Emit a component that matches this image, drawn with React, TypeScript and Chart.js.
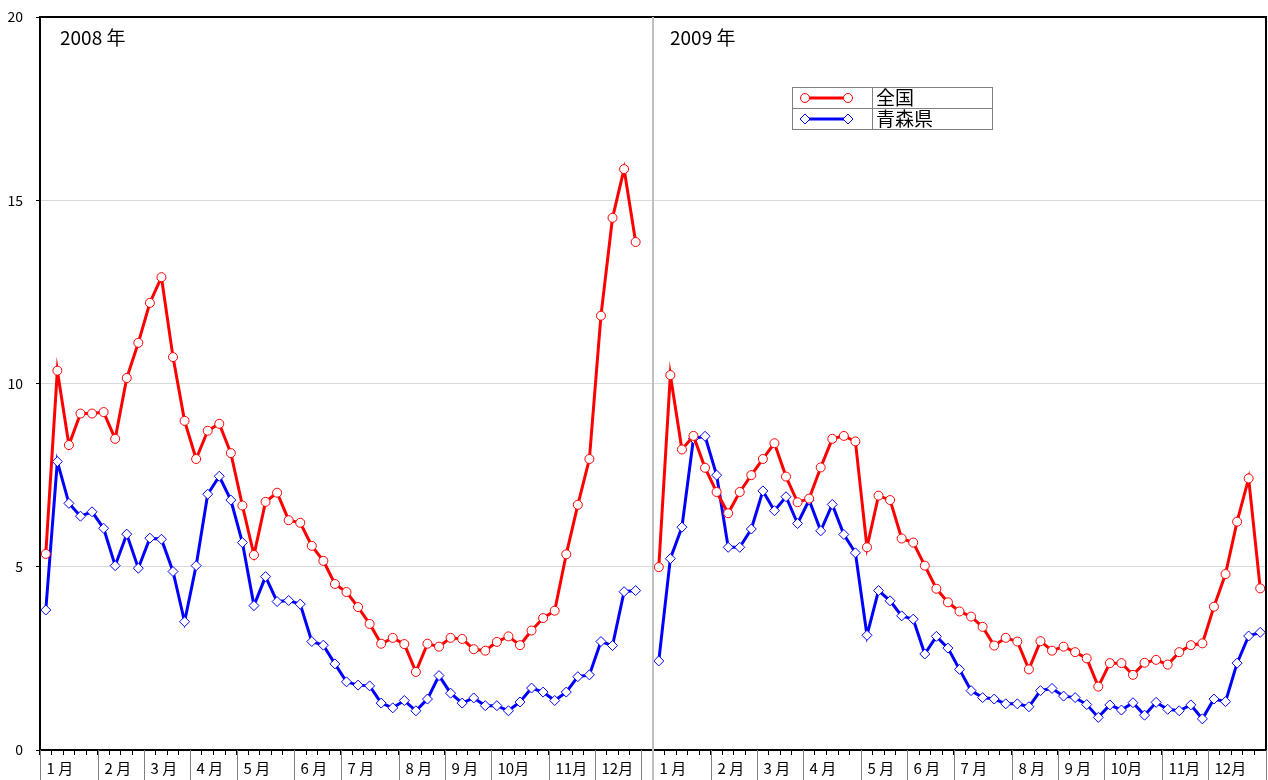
import React, { useEffect, useRef } from "react";
import { Chart, registerables } from "chart.js";

Chart.register(...registerables);

// ---- data ----
const years = ["2008", "2009"];
const seriesNames = ["全国", "青森県"];
const weeks2008 = [5, 4, 4, 4, 5, 4, 5, 4, 4, 5, 4, 4]; // 52 weeks (+1 empty slot)
const weeks2009 = [5, 4, 4, 5, 4, 4, 5, 4, 4, 5, 4, 5]; // 53 weeks
const SLOTS_PER_YEAR = 53;
const yTicks = [0, 5, 10, 15, 20];

const national2008 = [
  5.35, 10.35, 8.32, 9.18, 9.18, 9.22, 8.49, 10.15, 11.11, 12.2, 12.9, 10.72, 8.98,
  7.94, 8.71, 8.9, 8.1, 6.67, 5.32, 6.77, 7.02, 6.27, 6.2, 5.57, 5.16, 4.53, 4.31,
  3.9, 3.44, 2.9, 3.06, 2.89, 2.13, 2.9, 2.82, 3.06, 3.03, 2.75, 2.71, 2.95, 3.1,
  2.86, 3.26, 3.6, 3.8, 5.34, 6.69, 7.94, 11.85, 14.52, 15.85, 13.86,
];
const aomori2008 = [
  3.82, 7.87, 6.73, 6.38, 6.5, 6.05, 5.03, 5.89, 4.96, 5.78, 5.75, 4.87, 3.5, 5.03,
  6.98, 7.47, 6.82, 5.66, 3.94, 4.73, 4.05, 4.08, 3.98, 2.96, 2.86, 2.35, 1.86, 1.77,
  1.75, 1.28, 1.15, 1.35, 1.07, 1.39, 2.03, 1.55, 1.28, 1.42, 1.21, 1.21, 1.07, 1.31,
  1.69, 1.58, 1.35, 1.58, 2.0, 2.05, 2.96, 2.85, 4.32, 4.35,
];
const national2009 = [
  4.99, 10.23, 8.2, 8.57, 7.7, 7.04, 6.46, 7.04, 7.5, 7.94, 8.37, 7.46, 6.76, 6.86,
  7.71, 8.49, 8.57, 8.42, 5.53, 6.94, 6.82, 5.77, 5.66, 5.03, 4.4, 4.03, 3.78, 3.64,
  3.36, 2.85, 3.06, 2.96, 2.2, 2.97, 2.71, 2.82, 2.67, 2.5, 1.73, 2.37, 2.37, 2.05,
  2.38, 2.46, 2.33, 2.67, 2.86, 2.91, 3.91, 4.8, 6.23, 7.41, 4.41,
];
const aomori2009 = [
  2.43, 5.22, 6.08, 8.5, 8.56, 7.5, 5.53, 5.53, 6.03, 7.07, 6.53, 6.91, 6.18, 6.82,
  5.98, 6.7, 5.88, 5.38, 3.13, 4.35, 4.07, 3.66, 3.57, 2.62, 3.1, 2.78, 2.2, 1.62,
  1.43, 1.39, 1.26, 1.26, 1.18, 1.62, 1.68, 1.47, 1.43, 1.24, 0.89, 1.23, 1.09, 1.29,
  0.95, 1.3, 1.11, 1.07, 1.23, 0.85, 1.39, 1.32, 2.37, 3.11, 3.21,
];

const pad = (arr: number[]) => {
  const out: (number | null)[] = [...arr];
  while (out.length < SLOTS_PER_YEAR) out.push(null);
  return out;
};

const FONT = "'Noto Sans CJK JP', 'DejaVu Sans', sans-serif";

const overlayPlugin = {
  id: "overlay",
  afterDraw(chart: any) {
    const ctx = chart.ctx;
    const xs = chart.scales.x;
    const area = chart.chartArea;
    const w = xs.getPixelForValue(1) - xs.getPixelForValue(0);
    const bx = (i: number) => xs.getPixelForValue(i) - w / 2;
    const H = chart.height;
    ctx.save();

    // frame (top + right)
    ctx.strokeStyle = "#000";
    ctx.lineWidth = 2;
    ctx.beginPath();
    ctx.moveTo(area.left, area.top);
    ctx.lineTo(area.right, area.top);
    ctx.lineTo(area.right, area.bottom);
    ctx.stroke();

    // month separators + labels
    const yearWeeks = [weeks2008, weeks2009];
    ctx.font = `15px ${FONT}`;
    ctx.textBaseline = "middle";
    ctx.textAlign = "left";
    yearWeeks.forEach((wk, yi) => {
      let idx = yi * SLOTS_PER_YEAR;
      wk.forEach((n, mi) => {
        const x0 = Math.round(bx(idx)) + 0.5;
        ctx.strokeStyle = "#808080";
        ctx.lineWidth = 1;
        ctx.beginPath();
        ctx.moveTo(x0, area.bottom);
        ctx.lineTo(x0, H);
        ctx.stroke();
        const m = mi + 1;
        const label = m < 10 ? `${m} 月` : `${m}月`;
        ctx.fillStyle = "#000";
        ctx.fillText(label, x0 + 6, area.bottom + 18);
        idx += n;
      });
      const xe = Math.round(bx(idx)) + 0.5;
      ctx.strokeStyle = "#808080";
      ctx.beginPath();
      ctx.moveTo(xe, area.bottom);
      ctx.lineTo(xe, H);
      ctx.stroke();
    });

    // panel divider
    const xd = bx(SLOTS_PER_YEAR);
    ctx.strokeStyle = "#c0c0c0";
    ctx.lineWidth = 2;
    ctx.beginPath();
    ctx.moveTo(xd, area.top);
    ctx.lineTo(xd, H);
    ctx.stroke();

    // year titles
    ctx.fillStyle = "#000";
    ctx.font = `19px ${FONT}`;
    ctx.textBaseline = "middle";
    ctx.fillText(`${years[0]} 年`, area.left + 20, area.top + 21);
    ctx.fillText(`${years[1]} 年`, xd + 17, area.top + 21);

    // legend box
    const lx = 792, ly = 87, lw = 200, rh = 21, cw = 80;
    ctx.strokeStyle = "#808080";
    ctx.lineWidth = 1;
    ctx.strokeRect(lx + 0.5, ly + 0.5, lw, rh * 2);
    ctx.beginPath();
    ctx.moveTo(lx, ly + rh + 0.5);
    ctx.lineTo(lx + lw, ly + rh + 0.5);
    ctx.moveTo(lx + cw + 0.5, ly);
    ctx.lineTo(lx + cw + 0.5, ly + rh * 2);
    ctx.stroke();
    const ds = chart.data.datasets;
    ds.forEach((d: any, i: number) => {
      const cy = ly + rh * i + rh / 2 + 0.5;
      const x1 = lx + 13, x2 = lx + 56;
      ctx.strokeStyle = d.borderColor;
      ctx.lineWidth = 3;
      ctx.beginPath();
      ctx.moveTo(x1, cy);
      ctx.lineTo(x2, cy);
      ctx.stroke();
      [x1, x2].forEach((px) => {
        ctx.lineWidth = 1;
        ctx.fillStyle = "#fff";
        ctx.strokeStyle = d.borderColor;
        ctx.beginPath();
        if (d.pointStyle === "circle") {
          ctx.arc(px, cy, 4.5, 0, Math.PI * 2);
        } else {
          ctx.moveTo(px, cy - 5);
          ctx.lineTo(px + 5, cy);
          ctx.lineTo(px, cy + 5);
          ctx.lineTo(px - 5, cy);
          ctx.closePath();
        }
        ctx.fill();
        ctx.stroke();
      });
      ctx.fillStyle = "#000";
      ctx.font = `19px ${FONT}`;
      ctx.textAlign = "left";
      ctx.fillText(seriesNames[i], lx + cw + 4, cy);
    });
    ctx.restore();
  },
};

const zeroPad = (s: any) => {
  s.paddingTop = 0;
  s.paddingBottom = 0;
  s.paddingLeft = 0;
  s.paddingRight = 0;
};

export default function App() {
  const ref = useRef<HTMLCanvasElement>(null);
  useEffect(() => {
    document.body.style.margin = "0";
    const labels: string[] = [];
    years.forEach((y) => {
      for (let i = 1; i <= SLOTS_PER_YEAR; i++) labels.push(`${y}-${i}`);
    });
    const national = [...pad(national2008), ...pad(national2009)];
    const aomori = [...pad(aomori2008), ...pad(aomori2009)];
    const chart = new Chart(ref.current as HTMLCanvasElement, {
      type: "line",
      data: {
        labels,
        datasets: [
          {
            label: seriesNames[0],
            data: national,
            borderColor: "#ff0000",
            backgroundColor: "#ffffff",
            borderWidth: 3,
            pointStyle: "circle",
            pointRadius: 4.5,
            pointBorderWidth: 1,
            pointBackgroundColor: "#ffffff",
            pointBorderColor: "#ff0000",
            spanGaps: false,
            tension: 0,
          },
          {
            label: seriesNames[1],
            data: aomori,
            borderColor: "#0000ff",
            backgroundColor: "#ffffff",
            borderWidth: 3,
            pointStyle: "rectRot",
            pointRadius: 5,
            pointBorderWidth: 1,
            pointBackgroundColor: "#ffffff",
            pointBorderColor: "#0000ff",
            spanGaps: false,
            tension: 0,
          },
        ],
      },
      options: {
        responsive: false,
        animation: false,
        devicePixelRatio: 1,
        layout: { autoPadding: false, padding: { top: 17, right: 2, left: 0, bottom: 0 } },
        plugins: { legend: { display: false }, tooltip: { enabled: false } },
        scales: {
          x: {
            type: "category",
            offset: true,
            grid: {
              display: true,
              offset: true,
              drawOnChartArea: false,
              drawTicks: true,
              tickLength: 5,
              color: "#000",
            },
            border: { display: true, color: "#000", width: 2 },
            ticks: { display: false, autoSkip: false },
            afterFit: (s: any) => {
              s.height = 30;
              zeroPad(s);
            },
          },
          y: {
            min: 0,
            max: 20,
            afterBuildTicks: (s: any) => {
              s.ticks = yTicks.map((v) => ({ value: v }));
            },
            grid: { color: "#d9d9d9", lineWidth: 1, tickLength: 4, tickColor: "#000" },
            border: { display: true, color: "#000", width: 2 },
            ticks: {
              padding: 13,
              color: "#000",
              font: { family: FONT, size: 14 },
            },
            afterFit: (s: any) => {
              s.width = 40;
              zeroPad(s);
            },
          },
        },
      },
      plugins: [overlayPlugin],
    });
    return () => chart.destroy();
  }, []);
  return (
    <div style={{ width: 1268, height: 780 }}>
      <canvas ref={ref} width={1268} height={780} />
    </div>
  );
}
